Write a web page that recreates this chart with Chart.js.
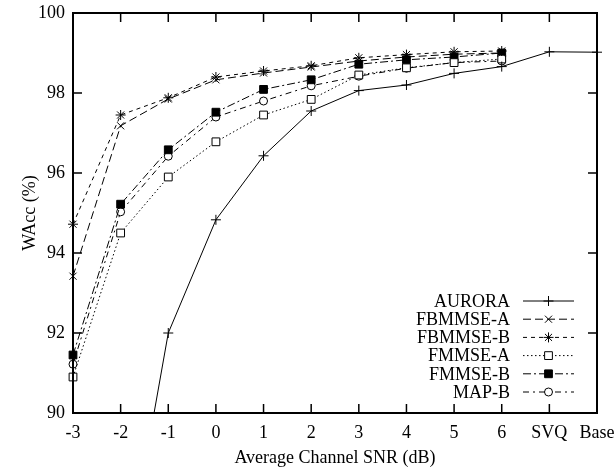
<!DOCTYPE html>
<html>
<head>
<meta charset="utf-8">
<script src="https://cdn.jsdelivr.net/npm/chart.js@4"></script>
<style>
  html, body { margin: 0; padding: 0; background: #fff; }
  #wrap { width: 616px; height: 470px; }
</style>
</head>
<body>
<div id="wrap"><canvas id="myChart" width="616" height="470"></canvas></div>
<script>
// categories on the x axis
const snrLabels = ['-3', '-2', '-1', '0', '1', '2', '3', '4', '5', '6', 'SVQ', 'Base'];
const yTicks = [90, 92, 94, 96, 98, 100];

// word accuracy (%)
const aurora   = [79.0, 85.3, 92.0, 94.83, 96.43, 97.55, 98.06, 98.2, 98.49, 98.66, 99.03, 99.02];
const fbmmseA  = [93.42, 97.18, 97.85, 98.33, 98.5, 98.65, 98.8, 98.9, 98.97, 99.0, null, null];
const fbmmseB  = [94.72, 97.45, 97.88, 98.4, 98.55, 98.68, 98.88, 98.96, 99.03, 99.05, null, null];
const fmmseA   = [90.9, 94.5, 95.9, 96.78, 97.45, 97.84, 98.45, 98.63, 98.76, 98.85, null, null];
const fmmseB   = [91.45, 95.22, 96.58, 97.52, 98.09, 98.33, 98.72, 98.83, 98.9, 99.0, null, null];
const mapB     = [91.22, 95.03, 96.42, 97.4, 97.8, 98.18, 98.42, 98.62, 98.76, 98.8, null, null];

const FONT = 'Liberation Serif, Times New Roman, serif';

const mk = (label, data, dash, pointStyle, fill, radius) => ({
    label: label,
    data: data,
    borderColor: '#000',
    borderWidth: 1,
    borderDash: dash,
    pointStyle: pointStyle,
    pointRadius: radius,
    pointBorderWidth: 1,
    pointBorderColor: '#000',
    pointBackgroundColor: fill,
    backgroundColor: fill,
    fill: false,
    tension: 0,
    spanGaps: false,
    clip: { left: 10, right: 10, top: 10, bottom: 0 }
});

const datasets = [
    mk('AURORA', aurora, [], 'cross', '#000', 5),
    mk('FBMMSE-A', fbmmseA, [8, 4], 'crossRot', '#000', 5),
    mk('FBMMSE-B', fbmmseB, [4, 4], 'star', '#000', 5),
    mk('FMMSE-A', fmmseA, [1.5, 2.5], 'rect', '#fff', 5.5),
    mk('FMMSE-B', fmmseB, [8, 3, 2, 3], 'rect', '#000', 5.5),
    mk('MAP-B', mapB, [6, 4, 2, 4], 'circle', '#fff', 4)
];

// frame plus gnuplot style inward ticks
const frameTicks = {
    id: 'frameTicks',
    afterDraw(chart) {
        const { ctx, chartArea: a, scales } = chart;
        const len = 9;
        ctx.save();
        ctx.strokeStyle = '#000';
        ctx.lineWidth = 1.5;
        ctx.beginPath();
        snrLabels.forEach((l, i) => {
            const x = scales.x.getPixelForValue(i);
            ctx.moveTo(x, a.bottom); ctx.lineTo(x, a.bottom - len);
            ctx.moveTo(x, a.top); ctx.lineTo(x, a.top + len);
        });
        yTicks.forEach(v => {
            const y = scales.y.getPixelForValue(v);
            ctx.moveTo(a.left, y); ctx.lineTo(a.left + len, y);
            ctx.moveTo(a.right, y); ctx.lineTo(a.right - len, y);
        });
        ctx.stroke();
        ctx.lineWidth = 2;
        ctx.strokeRect(a.left, a.top, a.right - a.left, a.bottom - a.top);
        ctx.restore();
    }
};

// legend inside the plot, text on the left, sample on the right
const insideLegend = {
    id: 'insideLegend',
    afterDraw(chart) {
        const ctx = chart.ctx;
        const textRight = 510, x0 = 523, x1 = 574, top = 301, step = 18.2;
        ctx.save();
        ctx.font = '18px ' + FONT;
        ctx.textAlign = 'right';
        ctx.textBaseline = 'middle';
        chart.data.datasets.forEach((ds, i) => {
            const y = top + i * step;
            ctx.fillStyle = '#000';
            ctx.fillText(ds.label, textRight, y + 1);
            ctx.strokeStyle = '#000';
            ctx.lineWidth = 1;
            ctx.setLineDash(ds.borderDash);
            ctx.beginPath();
            ctx.moveTo(x0, y); ctx.lineTo(x1, y);
            ctx.stroke();
            ctx.setLineDash([]);
            ctx.fillStyle = ds.pointBackgroundColor;
            Chart.helpers.drawPoint(ctx, {
                pointStyle: ds.pointStyle,
                radius: ds.pointRadius,
                borderWidth: 1,
                rotation: 0
            }, (x0 + x1) / 2, y);
        });
        ctx.restore();
    }
};

const ctx = document.getElementById('myChart').getContext('2d');
const myChart = new Chart(ctx, {
    type: 'line',
    data: { labels: snrLabels, datasets: datasets },
    options: {
        responsive: false,
        animation: false,
        devicePixelRatio: 1,
        layout: { padding: { top: 13, right: 19, left: 0, bottom: 0 } },
        plugins: { legend: { display: false }, tooltip: { enabled: false } },
        scales: {
            x: {
                type: 'category',
                offset: false,
                grid: { display: false, drawTicks: false },
                border: { display: false },
                ticks: { color: '#000', font: { family: FONT, size: 18 }, padding: 9, autoSkip: false, maxRotation: 0 },
                title: { display: true, text: 'Average Channel SNR (dB)', color: '#000', font: { family: FONT, size: 18 }, padding: { top: 0, bottom: 1 } },
                afterFit: s => { s.height = 57; s.paddingLeft = 0; s.paddingRight = 0; }
            },
            y: {
                min: 90,
                max: 100,
                grid: { display: false, drawTicks: false },
                border: { display: false },
                ticks: { color: '#000', font: { family: FONT, size: 18 }, padding: 8, stepSize: 2 },
                title: { display: true, text: 'WAcc (%)', color: '#000', font: { family: FONT, size: 18 }, padding: { top: 19, bottom: 0 } },
                afterFit: s => { s.width = 73; s.paddingTop = 0; s.paddingBottom = 0; }
            }
        }
    },
    plugins: [frameTicks, insideLegend]
});
</script>
</body>
</html>
